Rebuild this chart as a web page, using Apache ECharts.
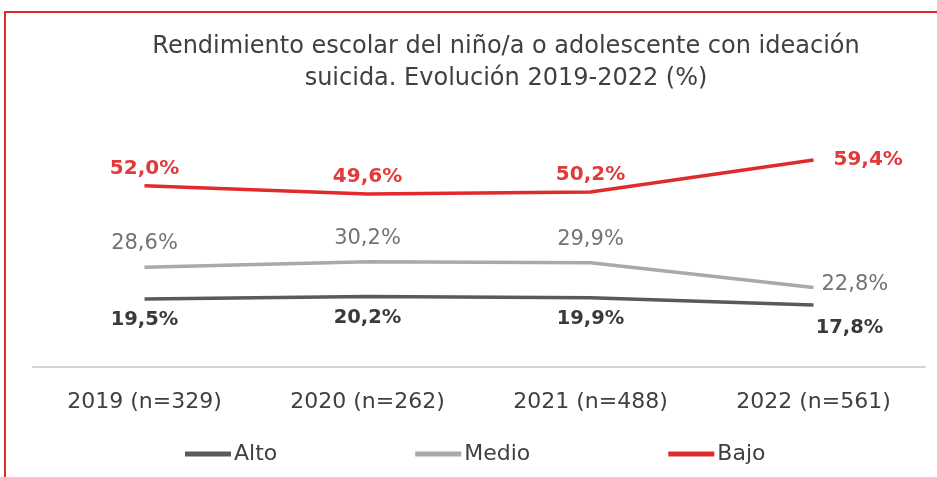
<!DOCTYPE html>
<html>
<head>
<meta charset="utf-8">
<script src="https://cdn.jsdelivr.net/npm/echarts@6/dist/echarts.min.js"></script>
<style>
  html, body { margin: 0; padding: 0; background: #ffffff; }
  #chart { width: 937px; height: 477px; }
</style>
</head>
<body>
<div id="chart"></div>
<script>
// School performance of children/adolescents with suicidal ideation, 2019-2022 (%)
const categories = ['2019 (n=329)', '2020 (n=262)', '2021 (n=488)', '2022 (n=561)'];
const alto  = [19.5, 20.2, 19.9, 17.8];
const medio = [28.6, 30.2, 29.9, 22.8];
const bajo  = [52.0, 49.6, 50.2, 59.4];

const FONT = 'DejaVu Sans';
const RED = '#e02a2b';
const fmt = v => v.toFixed(1).replace('.', ',') + '%';

// Attach a per-point label override to the last value of a series
function withLastLabel(values, lastLabel) {
  return values.map((v, i) => i === values.length - 1 ? { value: v, label: lastLabel } : v);
}

const chart = echarts.init(document.getElementById('chart'), null, { renderer: 'canvas' });

chart.setOption({
  backgroundColor: '#ffffff',
  animation: false,
  title: {
    text: 'Rendimiento escolar del niño/a o adolescente con ideación\nsuicida. Evolución 2019-2022 (%)',
    left: 501,
    top: 26,
    textAlign: 'center',
    textStyle: { fontFamily: FONT, fontSize: 24, fontWeight: 'normal', color: '#404040', lineHeight: 32 }
  },
  graphic: [{
    type: 'polyline',
    shape: { points: [[5, 478], [5, 12], [940, 12]] },
    style: { stroke: RED, lineWidth: 2, fill: null },
    z: 10
  }],
  legend: {
    bottom: 7,
    left: 180,
    icon: 'rect',
    itemWidth: 46,
    itemHeight: 5,
    itemGap: 138,
    data: ['Alto', 'Medio', 'Bajo'],
    textStyle: { fontFamily: FONT, fontSize: 22, color: '#404040', padding: [0, 0, 0, -2] }
  },
  grid: { left: 33, right: 12, top: 123, bottom: 110, containLabel: false },
  xAxis: {
    type: 'category',
    data: categories,
    boundaryGap: true,
    axisLine: { show: true, lineStyle: { color: '#d4d4d4', width: 2 } },
    axisTick: { show: false },
    axisLabel: { margin: 24, fontFamily: FONT, fontSize: 22, color: '#404040' }
  },
  yAxis: {
    type: 'value',
    min: 0,
    max: 70,
    show: false,
    splitLine: { show: false }
  },
  series: [
    {
      name: 'Alto',
      type: 'line',
      data: withLastLabel(alto, { position: 'bottom', distance: 13, offset: [36, 0] }),
      symbol: 'circle',
      symbolSize: 0,
      showSymbol: true,
      color: '#5a5a5a',
      lineStyle: { width: 3.5, color: '#5a5a5a' },
      label: {
        show: true, position: 'bottom', distance: 11,
        formatter: p => fmt(p.value),
        fontFamily: FONT, fontSize: 19.5, fontWeight: 'bold', color: '#3a3a3a'
      }
    },
    {
      name: 'Medio',
      type: 'line',
      data: withLastLabel(medio, { position: 'right', distance: 8, offset: [0, -3] }),
      symbol: 'circle',
      symbolSize: 0,
      showSymbol: true,
      color: '#a9a9a9',
      lineStyle: { width: 3.5, color: '#a9a9a9' },
      label: {
        show: true, position: 'top', distance: 13,
        formatter: p => fmt(p.value),
        fontFamily: FONT, fontSize: 21, fontWeight: 'normal', color: '#737373'
      }
    },
    {
      name: 'Bajo',
      type: 'line',
      data: withLastLabel(bajo, { position: 'right', distance: 20 }),
      symbol: 'circle',
      symbolSize: 0,
      showSymbol: true,
      color: RED,
      lineStyle: { width: 3.5, color: RED },
      label: {
        show: true, position: 'top', distance: 7,
        formatter: p => fmt(p.value),
        fontFamily: FONT, fontSize: 20, fontWeight: 'bold', color: '#e03a3a'
      }
    }
  ]
});
</script>
</body>
</html>
